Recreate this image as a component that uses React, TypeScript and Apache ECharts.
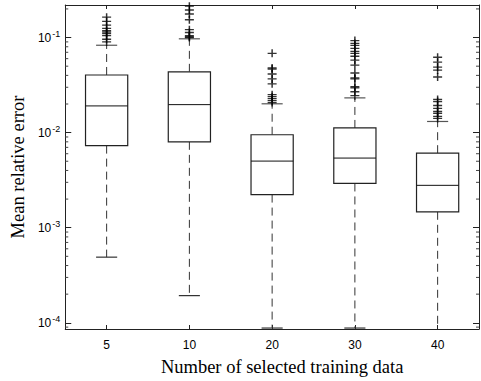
import React, { useEffect, useRef } from "react";
import * as echarts from "echarts";

const categories = ["5", "10", "20", "30", "40"];
// [low whisker, Q1, median, Q3, high whisker]
const boxStats = [
  [4.9e-4, 0.0073, 0.0191, 0.0404, 0.083],
  [1.93e-4, 0.008, 0.0197, 0.0436, 0.097],
  [8.8e-5, 0.00223, 0.00502, 0.0095, 0.0201],
  [8.8e-5, 0.00292, 0.0054, 0.0112, 0.0232],
  [8.0e-5, 0.00147, 0.00279, 0.00608, 0.0131],
];
const outliers5 = [0.164, 0.148, 0.135, 0.125, 0.118, 0.114, 0.11, 0.105, 0.096, 0.09];
const outliers10 = [0.214, 0.195, 0.177, 0.154, 0.121, 0.113, 0.105, 0.102, 0.1];
const outliers20 = [0.0683, 0.0478, 0.0466, 0.0414, 0.0367, 0.0326, 0.0251, 0.0239, 0.0228, 0.0217, 0.0207];
const outliers30 = [0.093, 0.0867, 0.0827, 0.077, 0.0716, 0.0683, 0.0636, 0.0578, 0.0513, 0.0424, 0.0376, 0.0367, 0.0304, 0.0296, 0.0269, 0.0245];
const outliers40 = [0.0621, 0.0551, 0.0489, 0.0455, 0.0385, 0.0223, 0.0212, 0.0193, 0.018, 0.0167, 0.016, 0.0148, 0.0141];
const outlierSets = [outliers5, outliers10, outliers20, outliers30, outliers40];
const minorTickValues = [
  9e-5,
  2e-4, 3e-4, 4e-4, 5e-4, 6e-4, 7e-4, 8e-4, 9e-4,
  2e-3, 3e-3, 4e-3, 5e-3, 6e-3, 7e-3, 8e-3, 9e-3,
  2e-2, 3e-2, 4e-2, 5e-2, 6e-2, 7e-2, 8e-2, 9e-2,
  2e-1,
];
const yMin = 8.6e-5;
const yMax = 0.22;
const xTitle = "Number of selected training data";
const yTitle = "Mean relative error";

export default function App() {
  const ref = useRef<HTMLDivElement>(null);
  useEffect(() => {
    if (!ref.current) return;
    const chart = echarts.init(ref.current, null, { renderer: "svg" });
    const axisColor = "#222";
    const boxData = boxStats.map((s, i) => [i, ...s]);
    const outlierData: number[][] = [];
    outlierSets.forEach((arr, i) => arr.forEach((v) => outlierData.push([i, v])));
    const yAxisBase = {
      type: "log",
      logBase: 10,
      min: yMin,
      max: yMax,
      splitLine: { show: false },
      axisLine: { show: true, lineStyle: { color: axisColor, width: 1 } },
      axisTick: { show: true, inside: true, length: 6, lineStyle: { color: axisColor } },
    };
    chart.setOption({
      animation: false,
      grid: { left: 57, top: 5, right: 2, bottom: 47, containLabel: false },
      xAxis: [
        {
          type: "category",
          data: categories,
          position: "bottom",
          axisLine: { show: true, onZero: false, lineStyle: { color: axisColor, width: 1 } },
          axisTick: { show: true, inside: true, alignWithLabel: true, length: 4, lineStyle: { color: axisColor } },
          axisLabel: { color: "#000", fontFamily: "Liberation Sans", fontSize: 12, margin: 10 },
          name: xTitle,
          nameLocation: "middle",
          nameGap: 28,
          nameTextStyle: { fontFamily: "Liberation Serif", fontSize: 18.5, color: "#000", padding: [0, 0, 0, 20] },
        },
        {
          type: "category",
          data: categories,
          position: "top",
          axisLine: { show: true, onZero: false, lineStyle: { color: axisColor, width: 1 } },
          axisTick: { show: true, inside: true, alignWithLabel: true, length: 4, lineStyle: { color: axisColor } },
          axisLabel: { show: false },
        },
      ],
      yAxis: [
        {
          ...yAxisBase,
          position: "left",
          axisLabel: {
            show: true,
            showMinLabel: false,
            showMaxLabel: false,
            margin: 5,
            formatter: (val: number) => {
              const e = Math.round(Math.log10(val));
              return "10{sup|" + e + "}";
            },
            rich: {
              sup: { fontSize: 9, verticalAlign: "top", fontFamily: "Liberation Sans", color: "#000", padding: [0, 0, 8, 1] },
            },
            fontFamily: "Liberation Sans",
            fontSize: 12,
            color: "#000",
          },
          name: yTitle,
          nameLocation: "middle",
          nameGap: 37,
          nameRotate: 90,
          nameTextStyle: { fontFamily: "Liberation Serif", fontSize: 18.5, color: "#000" },
        },
        {
          ...yAxisBase,
          position: "right",
          axisLabel: { show: false },
        },
      ],
      series: [
        {
          type: "custom",
          xAxisIndex: 0,
          yAxisIndex: 0,
          clip: true,
          data: boxData,
          encode: { x: 0, y: [1, 2, 3, 4, 5] },
          renderItem: (params: any, api: any) => {
            const xi = api.value(0);
            const low = api.coord([xi, api.value(1)]);
            const q1 = api.coord([xi, api.value(2)]);
            const med = api.coord([xi, api.value(3)]);
            const q3 = api.coord([xi, api.value(4)]);
            const high = api.coord([xi, api.value(5)]);
            const band = api.size([1, 0])[0];
            const bw = band * 0.51;
            const cw = bw / 2;
            const cx = low[0];
            const dash = { stroke: "#333", lineWidth: 1, lineDash: [8, 5] };
            const solid = { stroke: "#111", lineWidth: 1 };
            return {
              type: "group",
              children: [
                { type: "line", shape: { x1: cx, y1: q3[1], x2: cx, y2: high[1] }, style: dash },
                { type: "line", shape: { x1: cx, y1: q1[1], x2: cx, y2: low[1] }, style: dash },
                { type: "line", shape: { x1: cx - cw / 2, y1: high[1], x2: cx + cw / 2, y2: high[1] }, style: { stroke: "#555", lineWidth: 1.2 } },
                { type: "line", shape: { x1: cx - cw / 2, y1: low[1], x2: cx + cw / 2, y2: low[1] }, style: { stroke: "#333", lineWidth: 1.2 } },
                { type: "rect", shape: { x: cx - bw / 2, y: q3[1], width: bw, height: q1[1] - q3[1] }, style: { fill: "#fff", stroke: "#222", lineWidth: 1.2 } },
                { type: "line", shape: { x1: cx - bw / 2, y1: med[1], x2: cx + bw / 2, y2: med[1] }, style: solid },
              ],
            };
          },
          z: 2,
        },
        {
          type: "scatter",
          xAxisIndex: 0,
          yAxisIndex: 0,
          data: outlierData,
          symbol: "path://M0 4H8M4 0V8",
          symbolSize: [9, 8],
          itemStyle: { color: "none", borderColor: "#000", borderWidth: 1.4 },
          z: 3,
        },
        {
          type: "custom",
          xAxisIndex: 0,
          yAxisIndex: 0,
          data: minorTickValues.map((v) => [0, v]),
          encode: { x: 0, y: 1 },
          renderItem: (params: any, api: any) => {
            const cs = params.coordSys;
            const y = api.coord([0, api.value(1)])[1];
            const st = { stroke: "#444", lineWidth: 1 };
            return {
              type: "group",
              children: [
                { type: "line", shape: { x1: cs.x, y1: y, x2: cs.x + 3, y2: y }, style: st },
                { type: "line", shape: { x1: cs.x + cs.width - 3, y1: y, x2: cs.x + cs.width, y2: y }, style: st },
              ],
            };
          },
          z: 1,
        },
      ],
    });
    return () => chart.dispose();
  }, []);
  return <div ref={ref} style={{ width: 481, height: 381, position: "absolute", left: 0, top: 0 }} />;
}
